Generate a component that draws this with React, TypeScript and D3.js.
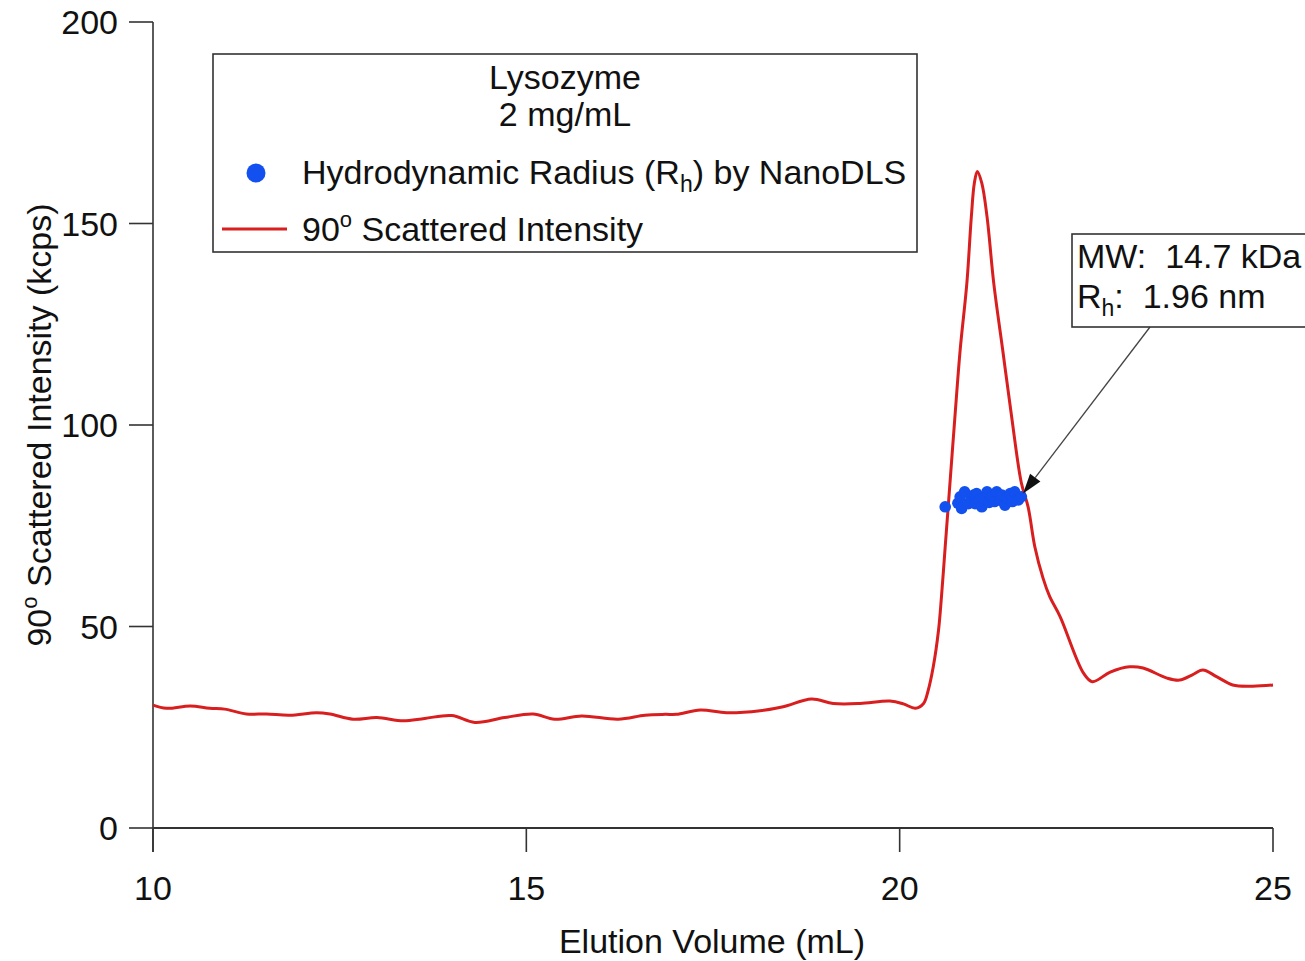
import React from "react";
import * as d3 from "d3";

// Elution profile: 90° scattered intensity (kcps) vs elution volume (mL)
const elutionVolume = [
  10.0, 10.18, 10.5, 10.76, 10.96, 11.25, 11.52, 11.83, 12.19, 12.37, 12.68, 13.0, 13.35, 13.64,
  14.0, 14.31, 14.71, 15.09, 15.38, 15.74, 16.23, 16.59, 16.86, 17.01, 17.33, 17.68, 18.13, 18.44,
  18.82, 19.11, 19.47, 19.87, 20.05, 20.21, 20.32, 20.38, 20.45, 20.52, 20.56, 20.61, 20.65, 20.74,
  20.81, 20.9, 20.96, 21.0, 21.04, 21.1, 21.17, 21.26, 21.38, 21.5, 21.63, 21.72, 21.81, 21.92,
  22.01, 22.15, 22.46, 22.58, 22.82, 23.08, 23.26, 23.58, 23.75, 23.92, 24.06, 24.25, 24.46, 24.73,
  25.0,
];
const scatteredIntensity = [
  30.5, 29.7, 30.3, 29.7, 29.5, 28.3, 28.3, 28.0, 28.6, 28.3, 27.0, 27.4, 26.6, 27.2,
  27.9, 26.2, 27.4, 28.3, 27.0, 27.8, 27.0, 28.0, 28.2, 28.2, 29.3, 28.6, 29.1, 30.1,
  32.0, 30.9, 30.9, 31.5, 30.8, 29.7, 30.9, 34.0, 40.0, 49.0, 57.4, 69.8, 79.7, 102.0,
  118.6, 135.2, 151.7, 160.0, 162.9, 160.0, 151.7, 135.2, 118.6, 102.0, 85.6, 79.7, 69.8, 62.0,
  57.4, 52.4, 38.5, 36.3, 38.7, 40.0, 39.7, 37.2, 36.7, 38.0, 39.2, 37.5, 35.5, 35.2,
  35.5,
];

// NanoDLS hydrodynamic radius readings across the peak (plotted on the intensity scale)
const dlsVolume = [
  20.61, 20.78, 20.81, 20.83, 20.87, 20.92, 20.96, 20.99, 21.01, 21.03, 21.06, 21.1, 21.12, 21.17,
  21.2, 21.23, 21.27, 21.3, 21.34, 21.37, 21.41, 21.44, 21.48, 21.51, 21.54, 21.59, 21.63,
];
const dlsLevel = [
  79.7, 80.6, 82.2, 79.3, 83.4, 80.5, 81.8, 82.6, 80.5, 83.0, 81.2, 79.7, 81.8, 83.4,
  80.8, 82.2, 81.0, 83.4, 81.4, 82.6, 80.1, 82.0, 83.0, 81.0, 83.4, 81.4, 82.2,
];

const xTicks = [10, 15, 20, 25];
const yTicks = [0, 50, 100, 150, 200];

const annotation = { mw: "14.7 kDa", rh: "1.96 nm", volume: 21.64, level: 84 };

const W = 1305;
const H = 961;
const FONT = "'Liberation Sans', Arial, Helvetica, sans-serif";
const FS = 34;
const RED = "#d81e1e";
const BLUE = "#1250ef";
const AXIS = "#333";

export default function App() {
  const x = d3.scaleLinear().domain([10, 25]).range([153, 1273]);
  const y = d3.scaleLinear().domain([0, 200]).range([828, 22]);

  const line = d3
    .line<number>()
    .x((_, i) => x(elutionVolume[i]))
    .y((v) => y(v))
    .curve(d3.curveCatmullRom.alpha(0.5));

  const boxX = 1072;
  const boxY = 234;
  const arrowStart: [number, number] = [1150, boxY + 93];
  const arrowEnd: [number, number] = [x(annotation.volume) + 1, y(annotation.level) + 4];
  const ang = Math.atan2(arrowEnd[1] - arrowStart[1], arrowEnd[0] - arrowStart[0]);
  const headLen = 20;
  const headW = 6.5;
  const bx = arrowEnd[0] - headLen * Math.cos(ang);
  const by = arrowEnd[1] - headLen * Math.sin(ang);
  const head = [
    [arrowEnd[0], arrowEnd[1]],
    [bx + headW * Math.sin(ang), by - headW * Math.cos(ang)],
    [bx - headW * Math.sin(ang), by + headW * Math.cos(ang)],
  ]
    .map((p) => p.join(","))
    .join(" ");

  return (
    <svg
      width={W}
      height={H}
      viewBox={`0 0 ${W} ${H}`}
      style={{ position: "absolute", left: 0, top: 0, background: "#fff" }}
      fontFamily={FONT}
    >
      {/* axes */}
      <line x1={x(10)} x2={x(10)} y1={y(200)} y2={852} stroke={AXIS} strokeWidth={1.6} />
      <line x1={x(10)} x2={x(25)} y1={y(0)} y2={y(0)} stroke={AXIS} strokeWidth={2} />
      {yTicks.map((t) => (
        <g key={"y" + t}>
          <line x1={129} x2={x(10)} y1={y(t)} y2={y(t)} stroke={AXIS} strokeWidth={1.6} />
          <text x={118} y={y(t) + 12} textAnchor="end" fontSize={FS} fill="#111">
            {t}
          </text>
        </g>
      ))}
      {xTicks.map((t) => (
        <g key={"x" + t}>
          <line x1={x(t)} x2={x(t)} y1={y(0)} y2={852} stroke={AXIS} strokeWidth={1.6} />
          <text x={x(t)} y={900} textAnchor="middle" fontSize={FS} fill="#111">
            {t}
          </text>
        </g>
      ))}

      {/* axis titles */}
      <text x={712} y={953} textAnchor="middle" fontSize={FS} fill="#111">
        Elution Volume (mL)
      </text>
      <text
        transform={`translate(51,425) rotate(-90)`}
        textAnchor="middle"
        fontSize={FS}
        fill="#111"
      >
        90
        <tspan fontSize={22} dy={-14}>
          o
        </tspan>
        <tspan dy={14}> Scattered Intensity (kcps)</tspan>
      </text>

      {/* intensity trace */}
      <path d={line(scatteredIntensity) ?? ""} fill="none" stroke={RED} strokeWidth={3} strokeLinejoin="round" />

      {/* DLS points */}
      {dlsVolume.map((v, i) => (
        <circle key={"d" + i} cx={x(v)} cy={y(dlsLevel[i])} r={5.8} fill={BLUE} />
      ))}

      {/* legend */}
      <rect x={213} y={54} width={704} height={198} fill="#fff" stroke={AXIS} strokeWidth={1.6} />
      <text x={565} y={89} textAnchor="middle" fontSize={FS} fill="#111">
        Lysozyme
      </text>
      <text x={565} y={126} textAnchor="middle" fontSize={FS} fill="#111">
        2 mg/mL
      </text>
      <circle cx={256} cy={173} r={9.5} fill={BLUE} />
      <text x={302} y={184} fontSize={FS} fill="#111">
        Hydrodynamic Radius (R
        <tspan fontSize={23} dy={8}>
          h
        </tspan>
        <tspan dy={-8}>) by NanoDLS</tspan>
      </text>
      <line x1={222} x2={287} y1={229} y2={229} stroke={RED} strokeWidth={3} />
      <text x={302} y={241} fontSize={FS} fill="#111">
        90
        <tspan fontSize={22} dy={-14}>
          o
        </tspan>
        <tspan dy={14}> Scattered Intensity</tspan>
      </text>

      {/* peak annotation */}
      <line
        x1={arrowStart[0]}
        y1={arrowStart[1]}
        x2={bx}
        y2={by}
        stroke="#444"
        strokeWidth={1.3}
      />
      <polygon points={head} fill="#111" />
      <rect x={boxX} y={boxY} width={234} height={93} fill="#fff" stroke={AXIS} strokeWidth={1.6} />
      <text x={boxX + 5} y={boxY + 34} fontSize={FS} fill="#111" style={{ whiteSpace: "pre" }}>
        {"MW:  " + annotation.mw}
      </text>
      <text x={boxX + 5} y={boxY + 74} fontSize={FS} fill="#111" style={{ whiteSpace: "pre" }}>
        R
        <tspan fontSize={23} dy={8}>
          h
        </tspan>
        <tspan dy={-8}>{":  " + annotation.rh}</tspan>
      </text>
    </svg>
  );
}
